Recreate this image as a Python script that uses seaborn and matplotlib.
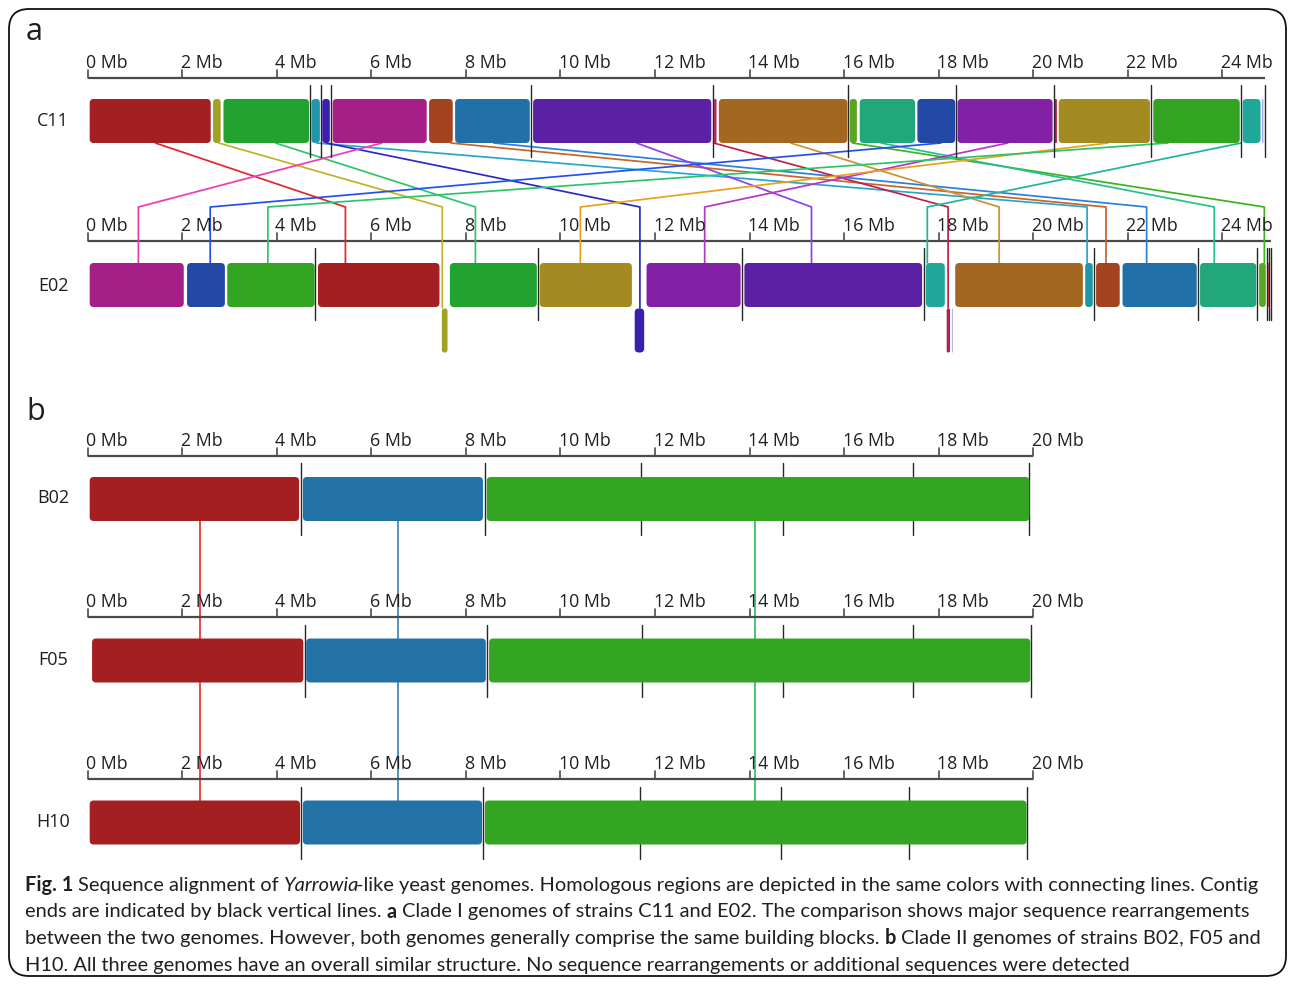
import numpy as np
import pandas as pd
import matplotlib
matplotlib.use("Agg")
import matplotlib.pyplot as plt
from matplotlib.patches import FancyBboxPatch
import seaborn as sns

sns.set_theme(style="white")
plt.rcParams["font.family"] = ["Open Sans", "DejaVu Sans"]

W, H = 1295, 985
PX_PER_MB = 47.27      # horizontal scale of every genome ruler
X0 = 87.8              # pixel column of "0 Mb"

# ------------------------------------------------------------------ data
# Panel a: locally collinear blocks (LCB) of strain C11, in genome order
C11_LCB = ["red", "olive", "green", "teal", "indigo", "magenta", "rust", "steel",
           "purple", "crimson", "ochre", "yellowgreen", "jade", "royal", "violet",
           "crimson2", "khaki", "green2", "teal2", "lavender"]
C11_START = [0.04, 2.65, 2.87, 4.73, 4.96, 5.18, 7.22, 7.77, 9.42, 13.25, 13.35,
             16.12, 16.33, 17.55, 18.40, 20.46, 20.54, 22.54, 24.43, 24.84]
C11_END = [2.60, 2.81, 4.68, 4.91, 5.12, 7.17, 7.72, 9.35, 13.19, 13.30, 16.07,
           16.27, 17.50, 18.35, 20.41, 20.50, 22.47, 24.37, 24.81, 24.87]
C11_CONTIG_ENDS = [4.70, 4.94, 5.14, 9.38, 13.22, 16.09, 18.37, 20.43, 22.49, 24.40, 24.90]
C11_LENGTH = 24.90

# Panel a: strain E02 (inverted blocks are drawn below the ruler)
E02_LCB = ["magenta", "royal", "green2", "red", "olive", "green", "khaki", "indigo",
           "violet", "purple", "teal2", "crimson", "lavender", "ochre", "teal", "rust",
           "steel", "jade", "yellowgreen", "crimson2"]
E02_START = [0.04, 2.10, 2.95, 4.87, 7.49, 7.66, 9.56, 11.57, 11.82, 13.89, 17.73,
             18.17, 18.28, 18.35, 21.10, 21.33, 21.89, 23.53, 24.78, 24.965]
E02_END = [2.03, 2.90, 4.80, 7.44, 7.61, 9.50, 11.51, 11.77, 13.81, 17.65, 18.13,
           18.24, 18.30, 21.05, 21.26, 21.83, 23.46, 24.72, 24.92, 24.985]
E02_INVERTED = [False, False, False, False, True, False, False, True, False, False,
                False, True, True, False, False, False, False, False, False, False]
E02_CONTIG_ENDS = [4.81, 9.52, 13.84, 17.68, 21.29, 23.49, 24.73, 24.945, 24.995, 25.035]
E02_LENGTH = 25.03

# Homology links between C11 and E02 (anchor position in Mb on each genome)
LINK_LCB = ["red", "olive", "green", "teal", "indigo", "magenta", "rust", "steel",
            "purple", "crimson", "ochre", "yellowgreen", "jade", "royal", "violet",
            "khaki", "green2", "teal2"]
LINK_C11 = [1.43, 2.77, 3.97, 4.84, 5.05, 6.22, 7.68, 8.59, 11.61, 13.24, 14.87,
            16.18, 16.78, 18.05, 19.46, 21.58, 22.85, 24.40]
LINK_E02 = [5.45, 7.50, 8.20, 21.14, 11.68, 1.07, 21.54, 22.40, 15.31, 18.20, 19.28,
            24.89, 23.83, 2.59, 13.05, 10.42, 3.81, 17.76]

# Panel b: three clade II genomes with the same three blocks
B_LCB = ["red", "blue", "green"]
B02_START = [0.04, 4.55, 8.44]
B02_END = [4.47, 8.36, 19.92]
B02_CONTIG_ENDS = [4.51, 8.41, 11.71, 14.71, 17.45, 19.92]
F05_START = [0.09, 4.62, 8.49]
F05_END = [4.56, 8.42, 19.94]
F05_CONTIG_ENDS = [4.60, 8.44, 11.73, 14.71, 17.45, 19.96]
H10_START = [0.04, 4.55, 8.40]
H10_END = [4.49, 8.34, 19.86]
H10_CONTIG_ENDS = [4.51, 8.36, 11.69, 14.66, 17.38, 19.86]
B_LINK_POS = [2.38, 6.56, 14.11]
B_LENGTH = 20.0

TICKS_A = list(range(0, 25, 2))
TICKS_B = list(range(0, 21, 2))

BLOCK_COLORS = {
    "red": "#a41f22", "olive": "#a0a225", "green": "#22a22f", "teal": "#2196a9",
    "indigo": "#3a1eae", "magenta": "#a51f87", "rust": "#a3431f", "steel": "#2270a8",
    "purple": "#5b21a4", "crimson": "#b01e52", "ochre": "#a36722",
    "yellowgreen": "#5aa41f", "jade": "#21a77a", "royal": "#2249a6",
    "violet": "#8220a6", "crimson2": "#a0202a", "khaki": "#a38b22",
    "green2": "#33a322", "teal2": "#21a69a", "lavender": "#a8a8e8",
}
LINK_COLORS = {
    "red": "#e2262b", "olive": "#c4b22a", "green": "#2ec46a", "teal": "#2aa6cc",
    "indigo": "#2b2bc4", "magenta": "#ec3cb4", "rust": "#c8642a", "steel": "#2a7fe0",
    "purple": "#9440e8", "crimson": "#c42046", "ochre": "#c89236",
    "yellowgreen": "#3cb41e", "jade": "#26c08e", "royal": "#2450ee",
    "violet": "#b436c8", "khaki": "#e6a21e", "green2": "#2ec46a", "teal2": "#20b49c",
}
B_BLOCK_COLORS = {"red": "#a41f22", "blue": "#2272a6", "green": "#33a523"}
B_LINK_COLORS = {"red": "#e83030", "blue": "#3a88b8", "green": "#2ec060"}

CAPTION = [
    [("Fig. 1", "bold"), (" ", None), ("Sequence alignment of", "normal"), (" ", None),
     ("Yarrowia", "italic"),
     ("-like yeast genomes. Homologous regions are depicted in the same colors with connecting lines. Contig", "normal")],
    [("ends are indicated by black vertical lines.", "normal"), (" ", None), ("a", "bold"), (" ", None),
     ("Clade I genomes of strains C11 and E02. The comparison shows major sequence rearrangements", "normal")],
    [("between the two genomes. However, both genomes generally comprise the same building blocks.", "normal"),
     (" ", None), ("b", "bold"), (" ", None), ("Clade II genomes of strains B02, F05 and", "normal")],
    [("H10. All three genomes have an overall similar structure. No sequence rearrangements or additional sequences were detected", "normal")],
]
CAPTION_FONT = ["Lato", "DejaVu Sans"]

# ------------------------------------------------------------------ layout
fig = plt.figure(figsize=(W / 100, H / 100), dpi=100)
ax_bg = fig.add_axes([0, 0, 1, 1])
ax_bg.set_xlim(0, W)
ax_bg.set_ylim(H, 0)
ax_bg.axis("off")

ax = fig.add_axes([0, 0, 1, 1])
ax.axis("off")

AXIS_COLOR = "#4a4a4a"
CONTIG_COLOR = "#262626"
TEXT_COLOR = "#1f1f1f"


def draw_ruler(y, length, ticks):
    ax.plot([0, length], [y, y], color=AXIS_COLOR, lw=1.6, solid_capstyle="butt", zorder=2)
    for t in ticks:
        ax.plot([t, t], [y - 8, y], color=AXIS_COLOR, lw=1.2, zorder=2)
        ax.text(t - 0.03, y - 10, f"{t} Mb", fontsize=12.8, color=TEXT_COLOR,
                ha="left", va="baseline", zorder=5)


def draw_blocks(starts, ends, lcbs, colors, top, height, inverted=None, below_top=None):
    for i, (s, e, k) in enumerate(zip(starts, ends, lcbs)):
        y = top
        if inverted is not None and inverted[i]:
            y = below_top
        r = min(0.085, 0.45 * (e - s))
        patch = FancyBboxPatch((s, y), e - s, height,
                               boxstyle=f"round,pad=0,rounding_size={r}",
                               mutation_aspect=PX_PER_MB,
                               fc=colors[k], ec="none", zorder=3)
        ax.add_patch(patch)


def draw_contigs(ends, y0, y1):
    # contig ends sit underneath the blocks
    for c in ends:
        ax.plot([c, c], [y0, y1], color=CONTIG_COLOR, lw=1.0, zorder=2.5)


# ---- panel a
draw_ruler(77.7, C11_LENGTH, TICKS_A)
draw_ruler(241.0, E02_LENGTH, TICKS_A)

inv_lookup = {k: inv for k, inv in zip(E02_LCB, E02_INVERTED)}
rows = []
for k, xc, xe in zip(LINK_LCB, LINK_C11, LINK_E02):
    y_end = 308.0 if inv_lookup[k] else 263.0
    rows += [(k, xc, 143.0), (k, xe, 207.0), (k, xe, y_end)]
links_a = pd.DataFrame(rows, columns=["lcb", "x", "y"])
sns.lineplot(data=links_a, x="x", y="y", hue="lcb", units="lcb", estimator=None,
             sort=False, palette=LINK_COLORS, legend=False, lw=1.25, ax=ax, zorder=2)

draw_blocks(C11_START, C11_END, C11_LCB, BLOCK_COLORS, 99.0, 44.0)
draw_blocks(E02_START, E02_END, E02_LCB, BLOCK_COLORS, 263.0, 44.0,
            inverted=E02_INVERTED, below_top=308.5)
draw_contigs(C11_CONTIG_ENDS, 85.0, 157.0)
draw_contigs(E02_CONTIG_ENDS, 248.0, 320.0)

# ---- panel b
rows_b = []
for k, x in zip(B_LCB, B_LINK_POS):
    rows_b += [(k, x, 521.0), (k, x, 800.5)]
links_b = pd.DataFrame(rows_b, columns=["lcb", "x", "y"])
sns.lineplot(data=links_b, x="x", y="y", hue="lcb", units="lcb", estimator=None,
             sort=False, palette=B_LINK_COLORS, legend=False, lw=1.25, ax=ax, zorder=2)

b_tracks = [
    (455.5, B02_START, B02_END, B02_CONTIG_ENDS),
    (617.0, F05_START, F05_END, F05_CONTIG_ENDS),
    (779.0, H10_START, H10_END, H10_CONTIG_ENDS),
]
for y_axis, st, en, ce in b_tracks:
    draw_ruler(y_axis, B_LENGTH, TICKS_B)
    draw_blocks(st, en, B_LCB, B_BLOCK_COLORS, y_axis + 21.5, 44.0)
    draw_contigs(ce, y_axis + 7.5, y_axis + 79.5)

ax.set_xlim(-X0 / PX_PER_MB, (W - X0) / PX_PER_MB)
ax.set_ylim(H, 0)
ax.set_xlabel("")
ax.set_ylabel("")

# ---- frame, labels, caption
frame = FancyBboxPatch((9, 9), W - 18, H - 18, boxstyle="round,pad=0,rounding_size=20",
                       fc="none", ec="#111111", lw=1.3, zorder=0)
ax_bg.add_patch(frame)
ax_bg.text(26, 32, "a", fontsize=22, color=TEXT_COLOR, ha="left", va="center")
ax_bg.text(26, 412, "b", fontsize=22, color=TEXT_COLOR, ha="left", va="center")
for name, yc in [("C11", 121), ("E02", 286), ("B02", 498), ("F05", 660), ("H10", 822)]:
    ax_bg.text(53, yc, name, fontsize=13, color=TEXT_COLOR, ha="center", va="center")

renderer = fig.canvas.get_renderer()


def rich_line(x, y, pieces, size):
    arts = []
    cursor = x
    space_w = None
    for txt, style in pieces:
        if style is None:
            if space_w is None:
                a = ax_bg.text(0, 0, "n n", fontsize=size, family=CAPTION_FONT)
                b = ax_bg.text(0, 0, "nn", fontsize=size, family=CAPTION_FONT)
                space_w = (a.get_window_extent(renderer).width
                           - b.get_window_extent(renderer).width)
                a.remove()
                b.remove()
            cursor += space_w
            continue
        kw = {}
        if style == "bold":
            kw["fontweight"] = "bold"
        if style == "italic":
            kw["fontstyle"] = "italic"
        t = ax_bg.text(cursor, y, txt, fontsize=size, color=TEXT_COLOR,
                       family=CAPTION_FONT, ha="left", va="baseline", **kw)
        arts.append(t)
        cursor += t.get_window_extent(renderer).width
        if style == "italic":
            # the slanted glyph box overshoots the advance width
            cursor -= 0.28 * size
    return arts, cursor


probe, right = rich_line(25, 891, CAPTION[0], 12)
for a in probe:
    a.remove()
cap_size = 12 * (1258 - 25) / (right - 25)
for i, line in enumerate(CAPTION):
    rich_line(25, 891 + i * 26.5, line, cap_size)

fig.savefig("out.png", dpi=100)
